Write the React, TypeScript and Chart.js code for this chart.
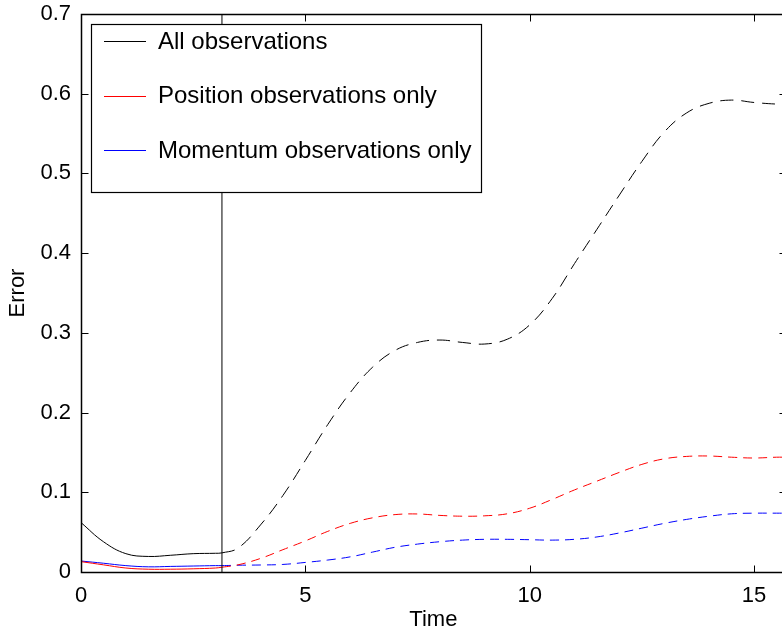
import React, { useEffect, useRef } from "react";
import { Chart, registerables } from "chart.js";

Chart.register(...registerables);

const PI = Math.PI;
const X_MAX = 5 * Math.PI;

const timeValues = [0, 0.5, 1, 1.5, 2, 2.5, 3, PI, 3.5, 4, 4.5, 5, 5.5, 6, 6.5, 7, 7.5, 8, 8.5, 9, 9.5, 10, 10.5, 11, 11.5, 12, 12.5, 13, 13.5, 14, 14.5, 15, 15.5, X_MAX];

const allObs = [0.062, 0.038, 0.023, 0.0195, 0.021, 0.023, 0.0235, 0.024, 0.03, 0.059, 0.096, 0.14, 0.185, 0.225, 0.257, 0.278, 0.288, 0.291, 0.288, 0.286, 0.292, 0.31, 0.343, 0.387, 0.43, 0.473, 0.515, 0.552, 0.576, 0.588, 0.592, 0.589, 0.587, 0.587];

const positionOnly = [0.013, 0.009, 0.005, 0.0035, 0.0035, 0.004, 0.005, 0.006, 0.009, 0.017, 0.028, 0.039, 0.051, 0.061, 0.068, 0.072, 0.0728, 0.071, 0.07, 0.0705, 0.073, 0.08, 0.091, 0.103, 0.114, 0.125, 0.135, 0.142, 0.145, 0.1455, 0.144, 0.143, 0.144, 0.144];

const momentumOnly = [0.0138, 0.011, 0.008, 0.0065, 0.007, 0.0075, 0.008, 0.008, 0.0085, 0.0088, 0.0095, 0.012, 0.015, 0.019, 0.025, 0.031, 0.035, 0.038, 0.04, 0.041, 0.041, 0.0405, 0.04, 0.041, 0.044, 0.049, 0.055, 0.061, 0.066, 0.07, 0.073, 0.0738, 0.0738, 0.0738];

const seriesLabels = ["All observations", "Position observations only", "Momentum observations only"];
const seriesColors = ["#000000", "#ff0000", "#0000ff"];
const seriesDashes = [[13, 8], [9, 6], [9, 6]];

const xTicks = [0, 5, 10, 15];
const yTicks = [0, 0.1, 0.2, 0.3, 0.4, 0.5, 0.6, 0.7];
const markerTime = [PI, PI];
const markerError = [0, 0.7];

const FONT = "'Liberation Sans', Arial, Helvetica, sans-serif";

const boxPlugin = {
  id: "matlabBox",
  afterDatasetsDraw(chart: any) {
    const { ctx, chartArea } = chart;
    const xs = chart.scales.x;
    const ys = chart.scales.y;
    const L = Math.round(chartArea.left) + 0.5;
    const R = Math.round(chartArea.right) + 0.5;
    const T = Math.round(chartArea.top) + 0.5;
    const B = Math.round(chartArea.bottom) + 0.5;
    const tl = 7;
    ctx.save();
    ctx.strokeStyle = "#000";
    ctx.lineWidth = 1;
    ctx.beginPath();
    xTicks.forEach((v) => {
      const px = Math.round(xs.getPixelForValue(v)) + 0.5;
      ctx.moveTo(px, B);
      ctx.lineTo(px, B - tl);
      ctx.moveTo(px, T);
      ctx.lineTo(px, T + tl);
    });
    yTicks.forEach((v) => {
      const py = Math.round(ys.getPixelForValue(v)) + 0.5;
      ctx.moveTo(L, py);
      ctx.lineTo(L + tl, py);
      ctx.moveTo(R, py);
      ctx.lineTo(R - tl, py);
    });
    ctx.stroke();
    ctx.lineWidth = 1.5;
    ctx.strokeRect(L, T, R - L, B - T);

    // legend
    const lx = 91.5, ly = 24.5, lw = 390, lh = 168;
    ctx.fillStyle = "#fff";
    ctx.fillRect(lx, ly, lw, lh);
    ctx.lineWidth = 1.2;
    ctx.strokeStyle = "#000";
    ctx.strokeRect(lx, ly, lw, lh);
    const rows = [41, 95.5, 150];
    ctx.font = `24px ${FONT}`;
    ctx.textBaseline = "middle";
    ctx.textAlign = "left";
    seriesLabels.forEach((lab, i) => {
      ctx.strokeStyle = seriesColors[i];
      ctx.lineWidth = 1;
      ctx.beginPath();
      ctx.moveTo(104, Math.round(rows[i]) + 0.5);
      ctx.lineTo(146, Math.round(rows[i]) + 0.5);
      ctx.stroke();
      ctx.fillStyle = "#000";
      ctx.fillText(lab, 158, rows[i] + 1);
    });
    ctx.restore();
  },
};

export default function App() {
  const ref = useRef<HTMLCanvasElement | null>(null);
  useEffect(() => {
    if (!ref.current) return;
    const mk = (ys: number[]) => timeValues.map((t, i) => ({ x: t, y: ys[i] }));
    const seriesData = [allObs, positionOnly, momentumOnly];
    const datasets: any[] = [
      {
        label: "marker",
        data: markerTime.map((t, i) => ({ x: t, y: markerError[i] })),
        borderColor: "#000",
        borderWidth: 1,
        pointRadius: 0,
        tension: 0,
      },
      ...seriesData.map((ys, i) => ({
        label: seriesLabels[i],
        data: mk(ys),
        borderColor: seriesColors[i],
        borderWidth: 1,
        pointRadius: 0,
        tension: 0.4,
        segment: {
          borderDash: (c: any) => (c.p0.parsed.x >= PI - 1e-6 ? seriesDashes[i] : []),
        },
      })),
    ];
    const chart = new Chart(ref.current, {
      type: "line",
      data: { datasets },
      plugins: [boxPlugin],
      options: {
        animation: false,
        responsive: false,
        devicePixelRatio: 1,
        layout: { padding: { top: 14, right: 14.2, left: 0, bottom: 0 } },
        plugins: { legend: { display: false }, tooltip: { enabled: false } },
        scales: {
          x: {
            type: "linear",
            min: 0,
            max: X_MAX,
            grid: { display: false, drawTicks: false },
            border: { display: false },
            afterBuildTicks: (s: any) => {
              s.ticks = xTicks.map((v) => ({ value: v }));
            },
            afterFit: (s: any) => {
              s.height = 63;
              s.paddingLeft = 0;
              s.paddingRight = 0;
            },
            ticks: {
              color: "#000",
              padding: 11,
              maxRotation: 0,
              autoSkip: false,
              font: { family: FONT, size: 22 },
              callback: (v: any) => String(v),
            },
            title: {
              display: true,
              text: "Time",
              color: "#000",
              font: { family: FONT, size: 22 },
              padding: { top: 0, bottom: 2 },
            },
          },
          y: {
            type: "linear",
            min: 0,
            max: 0.7,
            grid: { display: false, drawTicks: false },
            border: { display: false },
            afterBuildTicks: (s: any) => {
              s.ticks = yTicks.map((v) => ({ value: v }));
            },
            afterFit: (s: any) => {
              s.width = 81;
              s.paddingTop = 0;
              s.paddingBottom = 0;
            },
            ticks: {
              color: "#000",
              padding: 10,
              autoSkip: false,
              font: { family: FONT, size: 22 },
              callback: (v: any) => (v === 0 ? "0" : Number(v).toFixed(1)),
            },
            title: {
              display: true,
              text: "Error",
              color: "#000",
              font: { family: FONT, size: 22 },
              padding: { top: 5, bottom: 0 },
            },
          },
        },
      },
    });
    return () => chart.destroy();
  }, []);
  return (
    <div style={{ position: "fixed", left: 0, top: 0, width: 782, height: 635, overflow: "hidden", background: "#fff" }}>
      <canvas ref={ref} width={800} height={635} style={{ display: "block" }} />
    </div>
  );
}
